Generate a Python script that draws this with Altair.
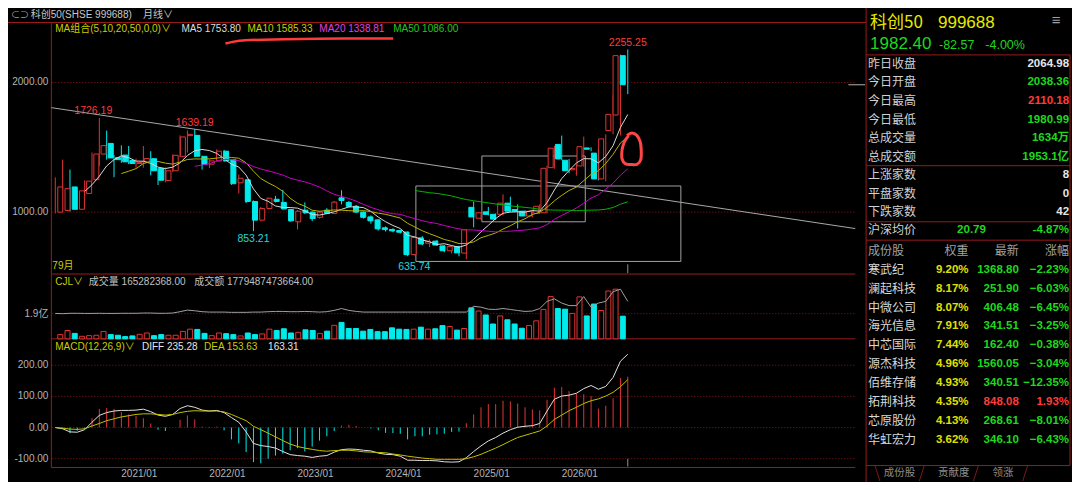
import altair as alt
import pandas as pd

# ---------------- data: 科创50 monthly candles 2020/01 .. 2026/07 ----------------
opens = [1000, 1013, 1194, 1022, 1144, 1250, 1448, 1530, 1420, 1440,
         1398, 1375, 1388, 1412, 1336, 1244, 1319, 1430, 1590, 1592,
         1430, 1370, 1395, 1470, 1405, 1226, 1249, 1082, 938, 1028,
         1099, 1075, 1020, 925, 1015, 1000, 960, 1015, 990, 1110,
         1075, 1045, 1000, 963, 940, 879, 866, 858, 846, 672,
         801, 760, 776, 739, 702, 734, 684, 1037, 953, 1002,
         983, 983, 1069, 1020, 1007, 970, 990, 995, 1343, 1522,
         1400, 1326, 1356, 1495, 1455, 1256, 1629, 1749, 2207]
highs = [1268, 1405, 1328, 1170, 1245, 1460, 1726.19, 1629, 1440, 1515,
         1510, 1413, 1510, 1470, 1340, 1345, 1445, 1592, 1630, 1639.19,
         1435, 1405, 1485, 1480, 1410, 1290, 1255, 1090, 1040, 1112,
         1125, 1172, 1025, 1015, 1075, 1005, 1010, 1030, 1085, 1169,
         1085, 1055, 1005, 975, 945, 890, 875, 865, 850, 810,
         815, 790, 785, 745, 740, 740, 870, 1082, 1000, 1040,
         990, 1137, 1119, 1060, 1015, 1020, 1060, 1358, 1510, 1590,
         1410, 1368, 1582, 1500, 1490, 1600, 1903, 2215, 2255.25]
lows = [990, 1005, 1005, 1015, 1135, 1240, 1358, 1405, 1269, 1380,
        1370, 1343, 1343, 1284, 1209, 1230, 1310, 1425, 1460, 1425,
        1328, 1340, 1390, 1390, 1210, 1144, 1070, 853.21, 929, 1020,
        1075, 1020, 925, 866, 985, 930, 950, 985, 985, 1060,
        1035, 995, 950, 910, 858, 850, 845, 835, 660, 665,
        745, 730, 740, 690, 680, 659, 635.74, 883, 940, 975,
        940, 975, 1000, 873, 965, 960, 985, 990, 1335, 1400,
        1300, 1281, 1350, 1470, 1245, 1238, 1600, 1592, 1910]
closes = [1194, 1181, 1022, 1164, 1239, 1448, 1513, 1418, 1405, 1388,
          1375, 1382, 1413, 1319, 1246, 1319, 1438, 1580, 1600, 1431,
          1368, 1395, 1470, 1395, 1219, 1261, 1082, 938, 1028, 1107,
          1082, 1025, 933, 1007, 995, 950, 1000, 990, 1077, 1090,
          1045, 1000, 960, 933, 871, 865, 855, 845, 672, 804,
          754, 775, 746, 702, 734, 686, 863, 963, 995, 983,
          946, 1069, 1007, 1007, 970, 1007, 1045, 1338, 1493, 1410,
          1319, 1336, 1505, 1485, 1256, 1565, 1754, 2207, 1982.40]
volumes = [0.32, 0.63, 0.41, 0.19, 0.24, 0.27, 0.56, 0.32, 0.27, 0.17,
           0.22, 0.34, 0.44, 0.24, 0.32, 0.27, 0.27, 0.56, 0.73, 0.71,
           0.41, 0.24, 0.44, 0.39, 0.32, 0.22, 0.44, 0.32, 0.37, 0.73,
           0.63, 0.76, 0.44, 0.49, 0.68, 0.63, 0.41, 0.58, 1.02, 1.24,
           0.78, 0.78, 0.58, 0.71, 0.54, 0.54, 0.83, 0.73, 0.71, 0.73,
           0.88, 0.73, 0.76, 1.00, 0.93, 0.66, 0.78, 2.34, 2.10, 1.80,
           1.12, 1.73, 1.44, 1.12, 0.80, 1.00, 1.36, 2.22, 3.19, 2.29,
           2.24, 1.92, 3.17, 1.73, 2.63, 2.14, 3.61, 3.75, 1.71]
vol_avg = [1.92, 1.90, 1.93, 1.93, 1.92, 1.92, 1.93, 1.92, 1.92, 1.93,
           1.93, 1.93, 1.95, 1.95, 1.93, 1.93, 1.95, 2.05, 2.17, 2.12,
           2.05, 2.02, 2.02, 2.02, 2.00, 2.00, 2.00, 2.02, 2.02, 2.05,
           2.07, 2.07, 2.05, 2.05, 2.07, 2.05, 2.02, 2.05, 2.15, 2.29,
           2.15, 2.07, 2.02, 2.02, 2.02, 2.02, 2.02, 2.02, 2.02, 2.02,
           2.02, 2.02, 2.02, 2.02, 2.02, 2.02, 2.02, 2.46, 2.39, 2.24,
           2.22, 2.29, 2.22, 2.14, 2.07, 2.10, 2.29, 2.83, 3.02, 2.70,
           2.51, 2.51, 3.19, 2.39, 2.70, 2.83, 3.56, 3.75, 2.83]
macd_diff = [0, -4, -14, -15, -7, 17, 39, 48, 53, 55,
             55, 56, 59, 51, 40, 36, 42, 61, 70, 65,
             56, 53, 55, 48, 32, 17, -14, -51, -58, -61,
             -66, -77, -87, -90, -92, -96, -92, -90, -79, -71,
             -69, -70, -73, -75, -82, -86, -87, -92, -105, -105,
             -106, -106, -107, -110, -111, -110, -97, -77, -59, -43,
             -32, -18, -7, 1, 4, 6, 13, 53, 91, 101,
             104, 110, 125, 135, 123, 132, 161, 213, 235.28]
macd_dea = [0, -2, -5, -6, -4, 5, 13, 22, 28, 34,
            38, 42, 44, 44, 42, 40, 42, 48, 52, 54,
            53, 53, 53, 50, 42, 32, 22, 4, -7, -18,
            -30, -42, -53, -61, -66, -70, -74, -76, -74, -73,
            -73, -75, -78, -79, -80, -81, -85, -88, -92, -95,
            -98, -100, -102, -102, -102, -102, -100, -94, -86, -76,
            -66, -55, -43, -32, -25, -18, -11, 5, 26, 40,
            54, 65, 77, 86, 92, 101, 113, 131, 153.63]
macd_hist = [0, -4, -18, -10, -5, 30, 60, 63, 60, 50,
             42, 37, 30, 13, -7, -11, 0, 25, 39, 26,
             3, 2, 3, -9, -38, -51, -79, -111, -115, -100,
             -90, -84, -73, -66, -77, -61, -42, -28, -11, 6,
             9, 5, 0, -3, -9, -17, -18, -20, -38, -28,
             -28, -23, -22, -20, -14, -13, 14, 42, 65, 75,
             75, 86, 84, 77, 65, 58, 55, 89, 128, 130,
             117, 108, 107, 101, 61, 70, 94, 159, 163.31]

x_tick_idx = [12, 24, 36, 48, 60, 72]
x_tick_text = ["2021/01", "2022/01", "2023/01", "2024/01", "2025/01", "2026/01"]
price_ticks = [2000, 1000]
price_tick_text = ["2000.00", "1000.00"]
vol_ticks = [1.9]
vol_tick_text = ["1.9亿"]
macd_ticks = [200, 100, 0, -100]
macd_tick_text = ["200.00", "100.00", "0.00", "-100.00"]

ext_idx = [6, 19, 78, 27, 56]
ext_val = [1726.19, 1639.19, 2255.25, 853.21, 635.74]
ext_text = ["1726.19", "1639.19", "2255.25", "853.21", "635.74"]

# hand-drawn annotations (in index / price units)
trend_i = [-0.54, 109.0]
trend_p = [1806, 873]
box_i0 = [49.13, 58.12]
box_i1 = [85.23, 72.21]
box_p0 = [619.4, 925.4]
box_p1 = [1201.5, 1432.8]
circle_i = [77.89, 78.56, 79.23, 79.69, 79.83, 79.77, 79.23, 78.39, 77.68, 77.22, 77.22, 77.45, 77.79, 78.12]
circle_p = [1591.8, 1609.7, 1591.8, 1542.5, 1479.9, 1405.2, 1367.9, 1367.9, 1373.1, 1410.4, 1479.9, 1529.9, 1567.2, 1589.6]
uline_i = [23.18, 24.16, 25.91, 31.14, 39.19, 46.04]
uline_p = [2300.7, 2313.4, 2326.1, 2333.6, 2339.6, 2339.6]

quote_labels = ["昨日收盘", "今日开盘", "今日最高", "今日最低", "总成交量", "总成交额", "上涨家数", "平盘家数", "下跌家数"]
quote_values = ["2064.98", "2038.36", "2110.18", "1980.99", "1634万", "1953.1亿", "8", "0", "42"]

stock_names = ["寒武纪", "澜起科技", "中微公司", "海光信息", "中芯国际", "源杰科技", "佰维存储", "拓荆科技", "芯原股份", "华虹宏力"]
stock_weights = [9.20, 8.17, 8.07, 7.91, 7.44, 4.96, 4.93, 4.35, 4.13, 3.62]
stock_latest = [1368.80, 251.90, 406.48, 341.51, 162.40, 1560.05, 340.51, 848.08, 268.61, 346.10]
stock_changes = [-2.23, -6.03, -6.45, -3.25, -0.38, -3.04, -12.35, 1.93, -8.01, -6.43]

# ---------------- layout / style ----------------
W, H = 1064, 474
SX, SY = W / 1080.0, H / 490.0


def X(v):
    return round(v * SX, 2)


def Y(v):
    return round(v * SY, 2)


FONT = "Liberation Sans, Noto Sans CJK SC, sans-serif"
CJK = "Noto Sans CJK SC, Liberation Sans, sans-serif"
RED = "#e03434"
TRED = "#ff3b3b"
CYAN = "#00ecec"
GREEN = "#1ed81e"
YEL = "#cccc00"
HYEL = "#e8e800"
WHITE = "#e6e6e6"
GREY = "#b4b4b4"
FRAME = "#9a1a1a"
GRID = "#8a1818"

XS = alt.Scale(domain=[0, 78], range=[X(48), X(48 + 7.45 * 78)], nice=False, zero=False)
PS = alt.Scale(domain=[522.4, 2477.6], range=[Y(275), Y(13)], nice=False, zero=False)
VS = alt.Scale(domain=[0, 4.823], range=[Y(342), Y(276)], nice=False, zero=False)
MS = alt.Scale(domain=[-128.3, 281.7], range=[Y(475), Y(343)], nice=False, zero=False)


def xi(field="i"):
    return alt.X(f"{field}:Q", scale=XS, axis=None)


ONE = pd.DataFrame({"k": [0]})


def txt(s, x, y, color, size=10, align="left", weight="normal", font=FONT):
    return alt.Chart(ONE).mark_text(
        text=s, align=align, baseline="middle", color=color, fontSize=size,
        fontWeight=weight, font=font
    ).encode(x=alt.value(X(x)), y=alt.value(Y(y)))


def rule(x1, y1, x2, y2, color=FRAME, width=1):
    return alt.Chart(ONE).mark_rule(color=color, strokeWidth=width).encode(
        x=alt.value(X(x1)), x2=alt.value(X(x2)), y=alt.value(Y(y1)), y2=alt.value(Y(y2)))


df = pd.DataFrame({
    "i": list(range(len(closes))), "o": opens, "h": highs, "l": lows, "c": closes,
    "v": volumes, "va": vol_avg, "dif": macd_diff, "dea": macd_dea, "hist": macd_hist,
})
base = alt.Chart(df).transform_calculate(
    col=f"datum.c >= datum.o ? '{RED}' : '{CYAN}'",
    fil=f"datum.c >= datum.o ? '#000000' : '{CYAN}'",
    hcol=f"datum.hist >= 0 ? '{RED}' : '{CYAN}'",
    zero="0",
)

layers = []

# frames
layers += [
    rule(0, 15, 871, 15),
    rule(44, 15, 44, 475),
    rule(44, 275, 860, 275),
    rule(44, 342, 860, 342),
    rule(44, 475, 860, 475),
    rule(871, 0, 871, 490),
    rule(871, 48.5, 1078, 48.5),
    rule(871, 163, 1078, 163),
    rule(871, 221, 1078, 221),
    rule(871, 240, 1078, 240),
    rule(871, 473, 1078, 473),
    rule(1078, 48.5, 1078, 473),
]

# grid lines + y labels
pt = pd.DataFrame({"v": price_ticks, "t": price_tick_text})
vt = pd.DataFrame({"v": vol_ticks, "t": vol_tick_text})
mt = pd.DataFrame({"v": macd_ticks, "t": macd_tick_text})
for d, sc in ((pt, PS), (vt, VS), (mt, MS)):
    layers.append(alt.Chart(d).mark_rule(color=GRID, strokeDash=[1, 2], strokeWidth=1).encode(
        y=alt.Y("v:Q", scale=sc, axis=None), x=alt.value(X(45)), x2=alt.value(X(860))))
    layers.append(alt.Chart(d).mark_text(align="right", baseline="middle", color=GREY, fontSize=10, font=FONT).encode(
        y=alt.Y("v:Q", scale=sc, axis=None), x=alt.value(X(41)), text="t:N"))

# annotations: trendline and boxes
tr = pd.DataFrame({"i": trend_i, "p": trend_p})
layers.append(alt.Chart(tr).mark_line(color="#a8a8a8", strokeWidth=1).encode(
    x=xi(), y=alt.Y("p:Q", scale=PS, axis=None)))
bx = pd.DataFrame({"i0": box_i0, "i1": box_i1, "p0": box_p0, "p1": box_p1})
layers.append(alt.Chart(bx).mark_rect(fillOpacity=0, stroke="#a0a0a0", strokeWidth=1).encode(
    x=xi("i0"), x2="i1:Q", y=alt.Y("p0:Q", scale=PS, axis=None), y2="p1:Q"))

# candles
layers.append(base.mark_rule(strokeWidth=1).encode(
    x=xi(), y=alt.Y("l:Q", scale=PS, axis=None), y2="h:Q", color=alt.Color("col:N", scale=None)))
layers.append(base.mark_bar(size=5, strokeWidth=1).encode(
    x=xi(), y=alt.Y("o:Q", scale=PS, axis=None), y2="c:Q",
    fill=alt.Fill("fil:N", scale=None), stroke=alt.Stroke("col:N", scale=None)))

# moving averages
for n, colr in ((5, "#d8d8d8"), (10, "#b4b400"), (20, "#c800c8"), (50, "#00b400")):
    layers.append(alt.Chart(df).transform_window(
        ma="mean(c)", cnt="count()", frame=[-(n - 1), 0], sort=[alt.SortField("i")]
    ).transform_filter(f"datum.cnt >= {n}").mark_line(color=colr, strokeWidth=1).encode(
        x=xi(), y=alt.Y("ma:Q", scale=PS, axis=None)))

# extreme labels
ext = pd.DataFrame({"i": ext_idx, "v": ext_val, "t": ext_text, "k": list(range(len(ext_idx)))})
ext_dx = [-6, 0, 0, 0, -52]
ext_dy = [-7, -6.5, -6.5, 8, 8]
ext_col = [TRED, TRED, TRED, "#27d4dc", "#27d4dc"]
for k in range(len(ext_idx)):
    layers.append(alt.Chart(ext).transform_filter(f"datum.k == {k}").mark_text(
        dx=ext_dx[k], dy=ext_dy[k], color=ext_col[k], fontSize=10.5, font=FONT, baseline="middle"
    ).encode(x=xi(), y=alt.Y("v:Q", scale=PS, axis=None), text="t:N"))

# hand-drawn red marks
cl = pd.DataFrame({"i": circle_i, "p": circle_p, "k": list(range(len(circle_i)))})
layers.append(alt.Chart(cl).mark_line(color="#ff4545", strokeWidth=3, interpolate="cardinal").encode(
    x=xi(), y=alt.Y("p:Q", scale=PS, axis=None), order="k:Q"))
ul = pd.DataFrame({"i": uline_i, "p": uline_p, "k": list(range(len(uline_i)))})
layers.append(alt.Chart(ul).mark_line(color="#ff3a3a", strokeWidth=2.5, interpolate="monotone").encode(
    x=xi(), y=alt.Y("p:Q", scale=PS, axis=None), order="k:Q"))

# last price marker + cursor ticks
layers.append(base.transform_filter("datum.i == 78").mark_rule(color="#b0b0b0").encode(
    y=alt.Y("c:Q", scale=PS, axis=None), x=alt.value(X(853)), x2=alt.value(X(870))))
layers.append(base.transform_filter("datum.i == 78").mark_rule(color="#909090").encode(
    x=xi(), y=alt.value(Y(265)), y2=alt.value(Y(274))))
layers.append(base.transform_filter("datum.i == 78").mark_rule(color="#909090").encode(
    x=xi(), y=alt.value(Y(466)), y2=alt.value(Y(474))))

# volume
layers.append(base.mark_bar(size=5, strokeWidth=1).encode(
    x=xi(), y=alt.Y("v:Q", scale=VS, axis=None), y2="zero:Q",
    fill=alt.Fill("fil:N", scale=None), stroke=alt.Stroke("col:N", scale=None)))
layers.append(alt.Chart(df).mark_line(color="#a0a0a0", strokeWidth=1).encode(
    x=xi(), y=alt.Y("va:Q", scale=VS, axis=None)))

# MACD
layers.append(base.mark_rule(strokeWidth=1).encode(
    x=xi(), y=alt.Y("hist:Q", scale=MS, axis=None), y2="zero:Q", color=alt.Color("hcol:N", scale=None)))
layers.append(alt.Chart(df).mark_line(color="#e0e0e0", strokeWidth=1).encode(
    x=xi(), y=alt.Y("dif:Q", scale=MS, axis=None)))
layers.append(alt.Chart(df).mark_line(color="#c0c000", strokeWidth=1).encode(
    x=xi(), y=alt.Y("dea:Q", scale=MS, axis=None)))

# x labels
xt = pd.DataFrame({"i": x_tick_idx, "t": x_tick_text})
layers.append(alt.Chart(xt).mark_text(dx=-4, baseline="middle", color=GREY, fontSize=10, font=FONT).encode(
    x=xi(), y=alt.value(Y(482)), text="t:N"))

# header / legends
layers += [
    txt("⊂⊃", 3, 7, "#a0a0a0", 9),
    txt("科创50(SHSE 999688)", 23, 7, "#c8c8c8", 10),
    txt("月线∨", 137, 7, "#c8c8c8", 10),
    txt("MA组合(5,10,20,50,0,0)∨", 48, 22, YEL, 10),
    txt("MA5 1753.80", 176, 22, "#dcdcdc", 10),
    txt("MA10 1585.33", 243, 22, YEL, 10),
    txt("MA20 1338.81", 316, 22, "#e040e0", 10),
    txt("MA50 1086.00", 391, 22, "#20c820", 10),
    txt("79月", 45, 267, YEL, 10),
    txt("CJL∨", 48, 283, YEL, 10),
    txt("成交量 165282368.00", 82, 283, "#c0c0c0", 10),
    txt("成交额 1779487473664.00", 189, 283, "#c0c0c0", 10),
    txt("MACD(12,26,9)∨", 48, 350, YEL, 10),
    txt("DIFF 235.28", 136, 350, WHITE, 10),
    txt("DEA 153.63", 199, 350, YEL, 10),
    txt("163.31", 264, 350, WHITE, 10),
]

# right panel header
layers += [
    txt("科创50", 875, 15, HYEL, 17, font=CJK),
    txt("999688", 944, 15, HYEL, 17),
    txt("≡", 1064, 12, "#a0a0a0", 15, align="center"),
    txt("1982.40", 875, 37, GREEN, 17),
    txt("-82.57", 945, 38, GREEN, 12.5),
    txt("-4.00%", 992, 38, GREEN, 12.5),
]

# quote rows
qd = pd.DataFrame({"k": list(range(len(quote_labels))), "lab": quote_labels, "val": quote_values})
QS = alt.Scale(domain=[0, 8], range=[Y(57.7), Y(211.3)], nice=False, zero=False)
val_colors = [WHITE, GREEN, TRED, GREEN, GREEN, GREEN, WHITE, WHITE, WHITE]
qd["vc"] = val_colors
layers.append(alt.Chart(qd).mark_text(align="left", baseline="middle", color="#d0d0d0", fontSize=12, font=CJK).encode(
    x=alt.value(X(873)), y=alt.Y("k:Q", scale=QS, axis=None), text="lab:N"))
layers.append(alt.Chart(qd).mark_text(align="right", baseline="middle", fontSize=11.5, fontWeight="bold", font=FONT).encode(
    x=alt.value(X(1077)), y=alt.Y("k:Q", scale=QS, axis=None), text="val:N", color=alt.Color("vc:N", scale=None)))
layers += [
    txt("沪深均价", 873, 230, "#d0d0d0", 12, font=CJK),
    txt("20.79", 978, 230, GREEN, 11.5, align="center", weight="bold"),
    txt("-4.87%", 1077, 230, GREEN, 11.5, align="right", weight="bold"),
    txt("成份股", 873, 251, "#a0a0a0", 12, font=CJK),
    txt("权重", 975, 251, "#a0a0a0", 12, align="right", font=CJK),
    txt("最新", 1026, 251, "#a0a0a0", 12, align="right", font=CJK),
    txt("涨幅", 1077, 251, "#a0a0a0", 12, align="right", font=CJK),
]

# constituent table
sd = pd.DataFrame({"k": list(range(len(stock_names))), "n": stock_names, "w": stock_weights,
                   "p": stock_latest, "chg": stock_changes})
sbase = alt.Chart(sd).transform_calculate(
    wt="format(datum.w, '.2f') + '%'",
    pt="format(datum.p, '.2f')",
    ct="format(datum.chg, '.2f') + '%'",
    cc=f"datum.chg >= 0 ? '{TRED}' : '{GREEN}'",
)
TS = alt.Scale(domain=[0, 9], range=[Y(270.7), Y(446.2)], nice=False, zero=False)
layers.append(sbase.mark_text(align="left", baseline="middle", color="#d8d8d8", fontSize=12, font=CJK).encode(
    x=alt.value(X(873)), y=alt.Y("k:Q", scale=TS, axis=None), text="n:N"))
layers.append(sbase.mark_text(align="right", baseline="middle", color="#e0e000", fontSize=11.5, fontWeight="bold", font=FONT).encode(
    x=alt.value(X(975)), y=alt.Y("k:Q", scale=TS, axis=None), text="wt:N"))
layers.append(sbase.mark_text(align="right", baseline="middle", fontSize=11.5, fontWeight="bold", font=FONT).encode(
    x=alt.value(X(1026)), y=alt.Y("k:Q", scale=TS, axis=None), text="pt:N", color=alt.Color("cc:N", scale=None)))
layers.append(sbase.mark_text(align="right", baseline="middle", fontSize=11.5, fontWeight="bold", font=FONT).encode(
    x=alt.value(X(1077)), y=alt.Y("k:Q", scale=TS, axis=None), text="ct:N", color=alt.Color("cc:N", scale=None)))

# bottom tabs
layers += [
    txt("成份股", 905, 481, "#8c8c8c", 10.5, align="center", font=CJK),
    txt("贡献度", 960, 481, "#8c8c8c", 10.5, align="center", font=CJK),
    txt("领涨", 1010, 481, "#8c8c8c", 10.5, align="center", font=CJK),
    rule(880, 473, 885, 489, "#7a1a1a"),
    rule(930, 473, 925, 489, "#7a1a1a"),
    rule(985, 473, 980, 489, "#7a1a1a"),
    rule(1035, 473, 1030, 489, "#7a1a1a"),
]

chart = alt.layer(*layers).resolve_scale(
    x="independent", y="independent"
).properties(
    width=W, height=H, background="#000000", padding=0,
    autosize=alt.AutoSizeParams(type="none"),
).configure_view(stroke=None)

chart.save("out.html", embed_options={"renderer": "svg", "actions": False})
